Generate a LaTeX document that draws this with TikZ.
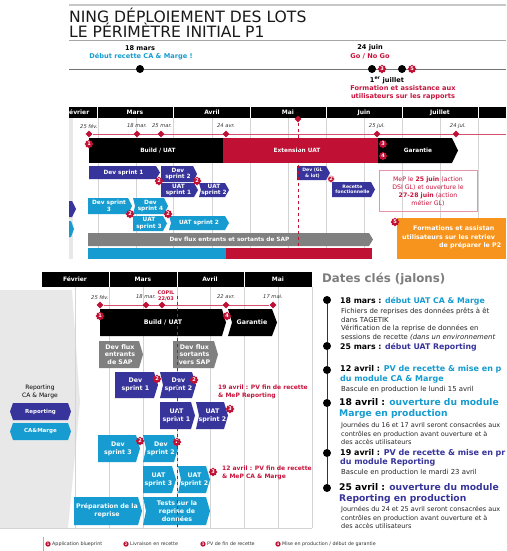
\documentclass[tikz,border=0pt]{standalone}
\usepackage{fontspec}
\setmainfont{DejaVu Sans}
\usetikzlibrary{shapes.geometric}
\definecolor{cpurple}{RGB}{55,52,155}
\definecolor{ccyan}{RGB}{22,156,208}
\definecolor{ccrim}{RGB}{192,16,52}
\definecolor{cred}{RGB}{200,20,60}
\definecolor{cgreybar}{RGB}{128,128,128}
\definecolor{corange}{RGB}{247,148,30}
\definecolor{cgrid}{RGB}{212,212,212}
\definecolor{cpanel}{RGB}{232,232,232}
\definecolor{ctitle}{RGB}{125,125,125}
\newcommand\mychev[9]{%
  \fill[#2] (#3,#4) -- ({#5-4},#4) -- (#5,{(#4+#6)/2}) -- ({#5-4},#6) -- (#3,#6) -- ({#3+#7},{(#4+#6)/2}) -- cycle;
  \node[#8] (#1) at ({(#3+#5)/2+#7/2-1},{(#4+#6)/2}) {#9};}
\tikzset{
  bartxt/.style={text=white, font=\bfseries\fontsize{5.8}{6.8}\selectfont, align=center, inner sep=0pt},
  bartxtb/.style={text=white, font=\bfseries\fontsize{6.3}{7.8}\selectfont, align=center, inner sep=0pt},
  smalltxt/.style={text=white, font=\bfseries\fontsize{4.6}{5.4}\selectfont, align=center, inner sep=0pt},
  badge/.style={star, star points=8, star point ratio=1.35, fill=ccrim, minimum size=9pt, inner sep=0pt, text=white, font=\bfseries\fontsize{5}{5}\selectfont},
  lbadge/.style={star, star points=8, star point ratio=1.35, fill=ccrim, minimum size=6pt, inner sep=0pt, text=white, font=\bfseries\fontsize{3.5}{3.5}\selectfont},
  diam/.style={diamond, fill=ccrim, minimum size=7pt, inner sep=0pt},
  datelbl/.style={font=\itshape\fontsize{5.2}{6}\selectfont, text=black!80, inner sep=0pt},
  month/.style={text=white, font=\bfseries\fontsize{6}{7}\selectfont, inner sep=0pt},
  gridline/.style={cgrid, line width=0.6pt},
  title/.style={font=\fontsize{15.6}{16}\selectfont, inner sep=0pt, anchor=west, text=black!90},
  msb/.style={font=\bfseries\fontsize{6.6}{8}\selectfont, inner sep=0pt, align=center},
  dot/.style={circle, fill=black, minimum size=8pt, inner sep=0pt},
  redb/.style={font=\bfseries\fontsize{6}{8}\selectfont, text=cred, inner sep=0pt, align=left, anchor=west},
  hA/.style={font=\bfseries\fontsize{7.8}{9}\selectfont, inner sep=0pt, anchor=west, align=left},
  hB/.style={font=\bfseries\fontsize{8}{9.6}\selectfont, inner sep=0pt, anchor=west, align=left},
  hC/.style={font=\bfseries\fontsize{9.2}{11}\selectfont, inner sep=0pt, anchor=west, align=left},
  desc/.style={font=\fontsize{6.9}{8.6}\selectfont, inner sep=0pt, anchor=west, align=left, text=black!85},
  descn/.style={desc, font=\fontsize{6.5}{8.6}\selectfont},
  legtxt/.style={font=\fontsize{4.8}{5}\selectfont, inner sep=0pt, anchor=west, text=black!80},
}
\begin{document}
\begin{tikzpicture}[x=1pt,y=-1pt]
\useasboundingbox (0,0) rectangle (506,551);
\clip (0,0) rectangle (506,551);
\fill[white] (0,0) rectangle (506,551);
% ===== top screenshot =====
\draw[black!22, line width=1.6pt] (69,5) -- (506,5);
\node[title] (ttl1) at (69,15) {NING DÉPLOIEMENT DES LOTS};
\node[title] (ttl2) at (69,30.5) {LE PÉRIMÈTRE INITIAL P1};
\draw[black!35, line width=0.8pt] (69,40.5) -- (506,40.5);
% milestones
\coordinate (ml0) at (69,69); \coordinate (ml1) at (506,69);
\draw[black!55, line width=0.8pt] (ml0) -- (ml1);
\node[dot] (m1) at (140,69) {};
\node[dot] (m2) at (372,69) {};
\node[dot] (m3) at (402,69) {};
\node[badge] (bt3) at (382,69) {3};
\node[badge] (bt5) at (412,69) {5};
\node[msb] (m1d) at (140,48) {18 mars};
\node[msb, text=ccyan] (m1t) at (141,56.5) {Début recette CA \& Marge !};
\node[msb] (m2d) at (370,48) {24 juin};
\node[msb, text=cred] (m2t) at (370,56.5) {Go / No Go};
\node[msb] (m3d) at (387,80.5) {1\textsuperscript{er} juillet};
\node[msb, text=cred] (m3t) at (403,93) {Formation et assistance aux\\utilisateurs sur les rapports};
% month header
\fill[black] (69,107) rectangle (506,118);
\foreach \x in {97,173,250,326,402,478} \draw[white, line width=0.8pt] (\x,107) -- (\x,118);
\node[month, anchor=west] (mfe) at (69,112.5) {évrier};
\node[month] (mma) at (135,112.5) {Mars};
\node[month] (mav) at (212,112.5) {Avril};
\node[month] (mmi) at (288,112.5) {Mai};
\node[month] (mju) at (364,112.5) {Juin};
\node[month] (mjl) at (440,112.5) {Juillet};
% grid
\fill[cpanel] (69,118) rectangle (73,259);
\foreach \x in {98,136,173,212,250,288,326,364,402,440,478} \draw[gridline] (\x,118) -- (\x,259);
% dates
\node[datelbl] (dl1) at (89,126) {25 fév.};
\node[datelbl] (dl2) at (137,126) {18 mar.};
\node[datelbl] (dl3) at (162,126) {25 mar.};
\node[datelbl] (dl4) at (226,126) {24 avr.};
\node[datelbl] (dl5) at (377,126) {25 jul.};
\node[datelbl] (dl6) at (458,126) {24 jul.};
\coordinate (rl1) at (506,134);
\node[diam] (d1) at (89,134) {};
\draw[cred!75, line width=0.6pt] (d1) -- (rl1);
\node[diam] (d2) at (137,134) {};
\node[diam] (d3) at (161,134) {};
\node[diam] (d4) at (226,134) {};
\node[diam] (d5) at (377,134) {};
\node[diam] (d6) at (456,134) {};
% bars
\fill[black] (89,138) rectangle (223,163);
\node[bartxt] (bu) at (158,150.5) {Build / UAT};
\fill[ccrim] (223,138) rectangle (378,163);
\node[bartxt] (ext) at (297,150.5) {Extension UAT};
\fill[black] (378,138) -- (452,138) -- (458,150.5) -- (452,163) -- (378,163) -- cycle;
\node[bartxt] (gar) at (418,150.5) {Garantie};
\node[badge] (b1) at (89,144) {1};
\node[badge] (b3) at (383,144) {3};
\node[badge] (b4) at (383,156) {4};
% purple sprints
\mychev{ds1}{cpurple}{89}{166}{160}{179}{0}{bartxt}{Dev sprint 1}
\mychev{ds2}{cpurple}{161}{166}{197}{182}{0}{bartxt}{Dev\\sprint 2}
\mychev{us1}{cpurple}{161}{183}{198}{197}{0}{bartxt}{UAT\\sprint 1}
\mychev{us2}{cpurple}{199}{183}{229}{197}{2}{bartxt}{UAT\\sprint 2}
\node[badge] (b2a) at (159,181) {2};
\node[badge] (b2b) at (197,181) {2};
% left partial shapes
\fill[cpurple] (69,201) -- (72,201) -- (76,209) -- (72,217) -- (69,217) -- cycle;
\fill[ccyan] (69,221) -- (71,221) -- (74,229) -- (71,237) -- (69,237) -- cycle;
% cyan sprints
\mychev{ds3}{ccyan}{88}{198}{132}{214}{0}{bartxt}{Dev sprint\\3}
\mychev{ds4}{ccyan}{133}{198}{168}{214}{2}{bartxt}{Dev\\sprint 4}
\mychev{us3}{ccyan}{133}{216}{167}{231}{0}{bartxt}{UAT\\sprint 3}
\mychev{us2c}{ccyan}{169}{216}{229}{230}{2}{bartxt}{UAT sprint 2}
\node[badge] (b2c) at (130,214) {2};
\node[badge] (b2d) at (168,214) {2};
\mychev{gflux}{cgreybar}{88}{233}{373}{246}{0}{bartxt}{Dev flux entrants et sortants de SAP}
\fill[ccyan] (88,248) rectangle (226,259);
\fill[ccrim] (226,248) rectangle (372,259);
% GL boxes
\mychev{dgl}{cpurple}{297}{166}{330}{180}{0}{smalltxt}{Dev (GL\\\& lot)}
\node[badge, minimum size=7pt] (b2e) at (331,179) {2};
\mychev{rf}{cpurple}{332}{182}{375}{197}{0}{smalltxt}{Recette\\fonctionnelle}
\node[draw=cred!45, line width=0.6pt, minimum width=98pt, minimum height=41pt, inner sep=0pt] (mepbox) at (428,190.5) {};
\node[font=\fontsize{6.2}{8}\selectfont, text=cred, align=center, inner sep=0pt] (mep) at (428,191.5) {MeP le \textbf{25 juin} (action\\DSI GL) et ouverture le\\\textbf{27-28 juin} (action\\métier GL)};
% orange
\fill[corange] (397,218) rectangle (506,259);
\node[font=\bfseries\fontsize{6.3}{8}\selectfont, text=white, inner sep=0pt, anchor=west] (or1) at (413,228.5) {Formations et assistan};
\node[font=\bfseries\fontsize{6.3}{8}\selectfont, text=white, inner sep=0pt, anchor=west] (or2) at (402,237.5) {utilisateurs sur les retriev};
\node[font=\bfseries\fontsize{6.3}{8}\selectfont, text=white, inner sep=0pt, anchor=west] (or3) at (439,246) {de préparer le P2};
\node[badge] (b5) at (395,222) {5};
% dashed May marker
\node[diam] (dm) at (298,119) {};
\coordinate (dmb) at (298,259);
\draw[ccrim, dashed, line width=0.7pt] (dm) -- (dmb);
% ===== bottom screenshot =====
\fill[white] (0,259) rectangle (506,551);
\fill[cpanel] (0,290) -- (72,290) -- (80,402) -- (68,528) -- (0,528) -- cycle;
\fill[black] (42,272) rectangle (312,287);
\foreach \x in {109,177,244} \draw[white, line width=0.8pt] (\x,272) -- (\x,287);
\node[month] (bmf) at (75,279.5) {Février};
\node[month] (bmm) at (143,279.5) {Mars};
\node[month] (bma) at (210,279.5) {Avril};
\node[month] (bmi) at (278,279.5) {Mai};
\foreach \x in {75,109,143,177,210,244,278,312} \draw[gridline] (\x,287) -- (\x,528);
\draw[cgrid, line width=0.8pt] (0,528) -- (312,528);
% dates
\node[datelbl] (bdl1) at (100,297) {25 fév.};
\node[datelbl] (bdl2) at (146,297) {18 mar.};
\node[font=\bfseries\fontsize{5}{6}\selectfont, text=cred, inner sep=0pt, align=center] (copil) at (166,296) {COPIL\\22/03};
\node[datelbl] (bdl4) at (226,297) {22 avr.};
\node[datelbl] (bdl5) at (273,297) {17 mai.};
\node[diam] (bd1) at (100,305) {};
\node[diam] (bd5) at (273,305) {};
\draw[cred!75, line width=0.6pt] (bd1) -- (bd5);
\node[diam] (bd2) at (146,305) {};
\node[diam] (bd3) at (162,305) {};
\node[diam] (bd4) at (226,305) {};
% bars
\fill[black] (100,309) -- (222,309) -- (226,322.5) -- (222,336) -- (100,336) -- cycle;
\node[bartxtb] (bbu) at (163,322.5) {Build / UAT};
\fill[black] (228,309) -- (272,309) -- (277,322.5) -- (272,336) -- (228,336) -- (232,322.5) -- cycle;
\node[bartxtb] (bgar) at (252,322.5) {Garantie};
\node[badge] (bb1) at (100,316) {1};
\node[badge] (bb4) at (227,316) {4};
\mychev{gin}{cgreybar}{99}{341}{143}{368}{0}{bartxtb}{Dev flux\\entrants\\de SAP}
\mychev{gout}{cgreybar}{173}{341}{218}{368}{0}{bartxtb}{Dev flux\\sortants\\vers SAP}
\mychev{bds1}{cpurple}{115}{372}{158}{398}{0}{bartxtb}{Dev\\sprint 1}
\mychev{bds2}{cpurple}{160}{372}{196}{398}{3}{bartxtb}{Dev\\sprint 2}
\node[badge] (bb2a) at (157,379) {2};
\node[badge] (bb2b) at (194,380) {2};
\mychev{bus1}{cpurple}{160}{402}{195}{429}{0}{bartxtb}{UAT\\sprint 1}
\mychev{bus2}{cpurple}{196}{402}{228}{429}{3}{bartxtb}{UAT\\sprint 2}
\node[badge] (bb3a) at (230,409) {3};
\node[redb] (n19) at (218,392) {19 avril : PV fin de recette\\\& MeP Reporting};
\mychev{bds3}{ccyan}{98}{435}{140}{462}{0}{bartxtb}{Dev\\sprint 3}
\mychev{bds2c}{ccyan}{143}{435}{178}{462}{3}{bartxtb}{Dev\\sprint 2}
\node[badge] (bb2c) at (140,441) {2};
\node[badge] (bb2d) at (177,442) {2};
\mychev{bus3}{ccyan}{143}{466}{176}{493}{0}{bartxtb}{UAT\\sprint 3}
\mychev{bus2c}{ccyan}{178}{466}{210}{493}{3}{bartxtb}{UAT\\sprint 2}
\node[badge] (bb3b) at (213,472) {3};
\node[redb] (n12) at (222,473) {12 avril : PV fin de recette\\\& MeP CA \& Marge};
\mychev{prep}{ccyan}{74}{497}{142}{525}{0}{bartxtb}{Préparation de la\\reprise}
\mychev{tests}{ccyan}{143}{497}{210}{525}{3}{bartxtb}{Tests sur la\\reprise de\\données}
\coordinate (bdt) at (177,296); \coordinate (bdb) at (177,528);
\draw[ccrim, dashed, line width=0.7pt] (bdt) -- (bdb);
% left labels
\node[font=\fontsize{6}{8}\selectfont, align=center, inner sep=0pt] (lrep) at (40,392) {Reporting\\CA \& Marge};
\fill[cpurple] (13,403) -- (68,403) -- (71,411.5) -- (68,420) -- (13,420) -- (10,411.5) -- cycle;
\node[smalltxt, font=\bfseries\fontsize{5.5}{6}\selectfont] (hrep) at (40.5,411.5) {Reporting};
\fill[ccyan] (13,423) -- (68,423) -- (71,431.5) -- (68,440) -- (13,440) -- (10,431.5) -- cycle;
\node[smalltxt, font=\bfseries\fontsize{5.5}{6}\selectfont] (hca) at (40.5,431.5) {CA\&Marge};
% legend
\coordinate (lg0) at (43,537); \coordinate (lg1) at (43,551);
\draw[black!30, line width=0.5pt] (lg0) -- (lg1);
\node[lbadge] (lb1) at (48,544) {1};
\node[legtxt] (lt1) at (52,544) {Application blueprint};
\node[lbadge] (lb2) at (126,544) {2};
\node[legtxt] (lt2) at (130,544) {Livraison en recette};
\node[lbadge] (lb3) at (203,544) {3};
\node[legtxt] (lt3) at (207,544) {PV de fin de recette};
\node[lbadge] (lb4) at (278,544) {4};
\node[legtxt] (lt4) at (282,544) {Mise en production / début de garantie};
% ===== right panel =====
\node[font=\bfseries\fontsize{11.8}{13}\selectfont, text=ctitle, inner sep=0pt, anchor=west] (dck) at (322,279) {Dates clés (jalons)};
\node[dot] (j1) at (327,300) {};
\node[dot] (j2) at (327,346) {};
\node[dot] (j3) at (327,370) {};
\node[dot] (j4) at (327,403) {};
\node[dot] (j5) at (327,453) {};
\node[dot] (j6) at (327,488) {};
\draw[black!80, line width=0.8pt] (j1) -- (j2) -- (j3) -- (j4) -- (j5) -- (j6);
\node[hA] (h1) at (340,301) {18 mars : \textcolor{ccyan}{début UAT CA \& Marge}};
\node[desc] (e1) at (341,315.3) {Fichiers de reprises des données prêts à êt\\dans TAGETIK};
\node[desc] (e1b) at (341,332.8) {Vérification de la reprise de données en\\sessions de recette \textit{(dans un environnement}};
\node[hA] (h2) at (340,347) {25 mars : \textcolor{cpurple}{début UAT Reporting}};
\node[hB, text=ccyan] (h3) at (340,374.5) {\textcolor{black}{12 avril :} PV de recette \& mise en p\\du module CA \& Marge};
\node[desc] (e3) at (341,389.5) {Bascule en production le lundi 15 avril};
\node[hC, text=ccyan] (h4) at (339,408.5) {\textcolor{black}{18 avril :} ouverture du module\\Marge en production};
\node[descn] (e4) at (341,433.6) {Journées du 16 et 17 avril seront consacrées aux\\contrôles en production avant ouverture et à\\des accès utilisateurs};
\node[hB, text=cpurple] (h5) at (340,458) {\textcolor{black}{19 avril :} PV de recette \& mise en pr\\du module Reporting};
\node[desc] (e5) at (341,472.5) {Bascule en production le mardi 23 avril};
\node[hC, text=cpurple] (h6) at (339,493.5) {\textcolor{black}{25 avril :} ouverture du module\\Reporting en production};
\node[descn] (e6) at (341,517.8) {Journées du 24 et 25 avril seront consacrées aux\\contrôles en production avant ouverture et à\\des accès utilisateurs};
\end{tikzpicture}
\end{document}
